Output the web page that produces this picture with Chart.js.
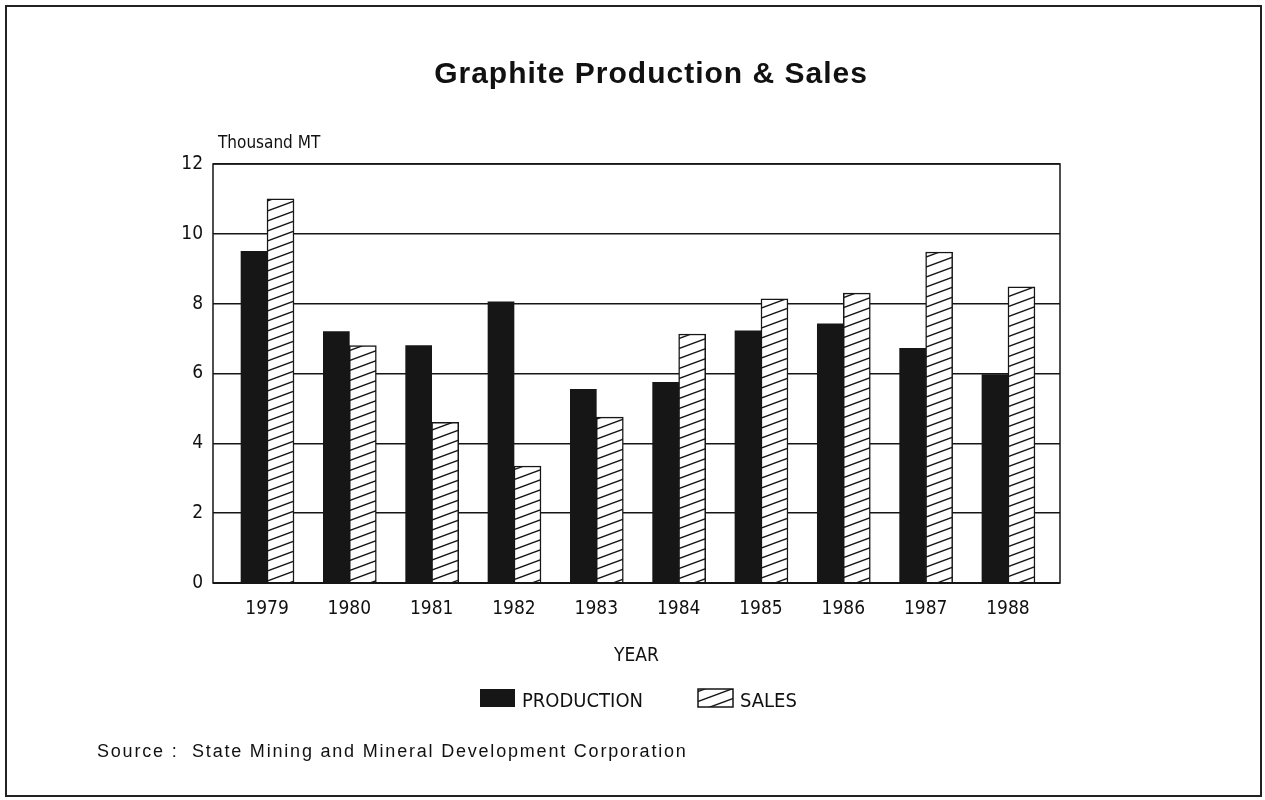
<!DOCTYPE html>
<html>
<head>
<meta charset="utf-8">
<title>Graphite Production &amp; Sales</title>
<script src="https://cdn.jsdelivr.net/npm/chart.js@4"></script>
<style>
    html, body { margin: 0; padding: 0; background: #fff; }
    canvas { display: block; }
</style>
</head>
<body>
<canvas id="graphiteChart" width="1265" height="800"></canvas>
<script>
// 연도별 흑연 생산/판매 (천 톤)
const years = [1979, 1980, 1981, 1982, 1983, 1984, 1985, 1986, 1987, 1988];
const production = [9.5, 7.2, 6.8, 8.05, 5.55, 5.75, 7.22, 7.42, 6.72, 5.97];
const sales = [11.0, 6.8, 4.6, 3.35, 4.75, 7.13, 8.14, 8.3, 9.48, 8.48];
const yTicks = [0, 2, 4, 6, 8, 10, 12];

const INK = '#161616';
const NARROW = '"DejaVu Sans Condensed", "Liberation Sans Narrow", sans-serif';

// 판매 막대용 빗금 패턴
function hatchPattern() {
    const c = document.createElement('canvas');
    c.width = 27;
    c.height = 10;
    const g = c.getContext('2d');
    g.fillStyle = '#fff';
    g.fillRect(0, 0, c.width, c.height);
    g.strokeStyle = INK;
    g.lineWidth = 1.4;
    for (let k = -1; k <= 1; k++) {
        g.beginPath();
        g.moveTo(0, c.height + k * c.height);
        g.lineTo(c.width, k * c.height);
        g.stroke();
    }
    return g.createPattern(c, 'repeat');
}

// 제목, 단위, 범례, 출처, 테두리
const extras = {
    id: 'extras',
    beforeDraw(chart) {
        const ctx = chart.ctx;
        ctx.save();
        ctx.fillStyle = '#fff';
        ctx.fillRect(0, 0, chart.width, chart.height);
        ctx.restore();
    },
    afterDraw(chart) {
        const ctx = chart.ctx;
        const area = chart.chartArea;
        ctx.save();

        // 플롯 영역 테두리
        ctx.strokeStyle = INK;
        ctx.lineWidth = 1.5;
        ctx.strokeRect(area.left, area.top, area.right - area.left, area.bottom - area.top);
        ctx.lineWidth = 2;
        ctx.beginPath();
        ctx.moveTo(area.left, area.bottom);
        ctx.lineTo(area.right, area.bottom);
        ctx.stroke();

        // 바깥 테두리
        ctx.strokeStyle = '#222';
        ctx.lineWidth = 2;
        ctx.strokeRect(6, 6, 1255, 790);

        // 제목
        ctx.fillStyle = '#111';
        ctx.letterSpacing = '1px';
        ctx.font = 'bold 30px "Liberation Sans", Arial, sans-serif';
        ctx.textAlign = 'center';
        ctx.textBaseline = 'alphabetic';
        ctx.fillText('Graphite Production & Sales', 651, 83);

        // 단위
        ctx.letterSpacing = '0px';
        ctx.font = '17px ' + NARROW;
        ctx.textAlign = 'left';
        ctx.fillText('Thousand MT', area.left + 5, 148);

        // 범례
        const legendX = [480, 698];
        ctx.font = '20px ' + NARROW;
        chart.data.datasets.forEach((ds, i) => {
            const x = legendX[i];
            ctx.fillStyle = ds.backgroundColor;
            ctx.fillRect(x, 689, 35, 18);
            if (ds.borderWidth) {
                ctx.strokeStyle = INK;
                ctx.lineWidth = 1.5;
                ctx.strokeRect(x, 689, 35, 18);
            }
            ctx.fillStyle = '#111';
            ctx.fillText(ds.label, x + 42, 707);
        });

        // 출처
        ctx.letterSpacing = '1.8px';
        ctx.font = '18px "Liberation Sans", Arial, sans-serif';
        ctx.fillText('Source :  State Mining and Mineral Development Corporation', 97, 757);

        ctx.restore();
    }
};

const ctx = document.getElementById('graphiteChart');

const graphiteChart = new Chart(ctx, {
    type: 'bar',
    data: {
        datasets: [{
            label: 'PRODUCTION',
            data: years.map((y, i) => ({ x: y, y: production[i] })),
            backgroundColor: INK,
            borderWidth: 0,
            barThickness: 26
        }, {
            label: 'SALES',
            data: years.map((y, i) => ({ x: y, y: sales[i] })),
            backgroundColor: hatchPattern(),
            borderColor: INK,
            borderWidth: 1.5,
            barThickness: 27
        }]
    },
    options: {
        responsive: false,
        animation: false,
        devicePixelRatio: 1,
        layout: {
            padding: { top: 164, left: 153, right: 205, bottom: 127 }
        },
        plugins: {
            legend: { display: false },
            title: { display: false },
            tooltip: { enabled: false }
        },
        scales: {
            x: {
                type: 'linear',
                offset: false,
                min: 1978.344,
                max: 1988.632,
                afterBuildTicks(scale) {
                    scale.ticks = years.map(v => ({ value: v }));
                },
                afterFit(scale) {
                    scale.height = 90;
                },
                grid: { display: false, drawTicks: false, offset: false },
                border: { display: false },
                ticks: {
                    padding: 15,
                    color: '#111',
                    font: { family: NARROW, size: 19 },
                    callback: v => String(v)
                },
                title: {
                    display: true,
                    text: 'YEAR',
                    color: '#111',
                    font: { family: NARROW, size: 19 },
                    padding: { top: 0, bottom: 6 }
                }
            },
            y: {
                min: 0,
                max: 12,
                afterBuildTicks(scale) {
                    scale.ticks = yTicks.map(v => ({ value: v }));
                },
                afterFit(scale) {
                    scale.width = 60;
                },
                grid: {
                    color: INK,
                    lineWidth: 1.5,
                    drawTicks: false
                },
                border: { display: false },
                ticks: {
                    padding: 10,
                    color: '#111',
                    font: { family: NARROW, size: 19 }
                }
            }
        }
    },
    plugins: [extras]
});
</script>
</body>
</html>
